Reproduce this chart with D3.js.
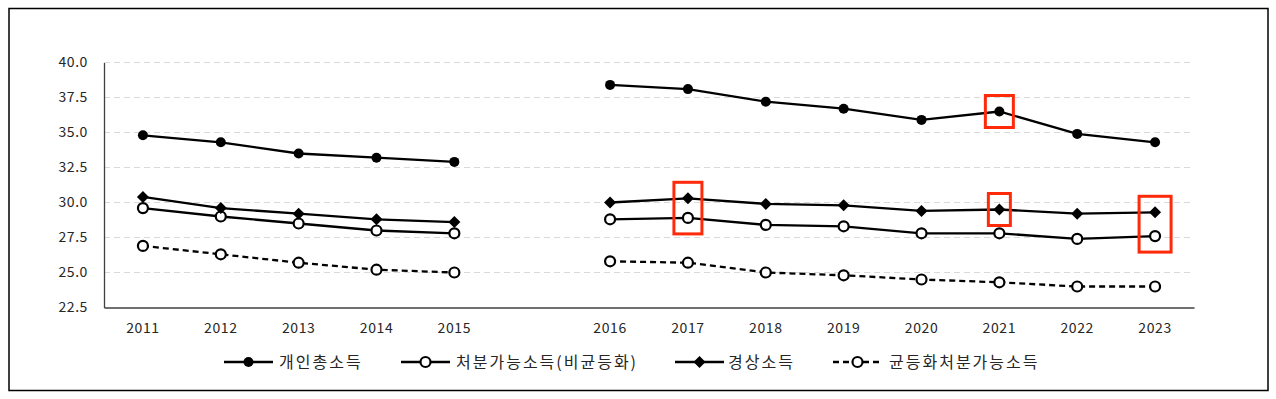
<!DOCTYPE html>
<html><head><meta charset="utf-8">
<script src="https://cdn.jsdelivr.net/npm/d3@7"></script>
<style>
html,body{margin:0;padding:0;background:#fff;}
text{font-family:"Noto Sans CJK KR","Noto Sans",sans-serif;fill:#262626;}
</style></head>
<body>
<svg id="c" width="1276" height="399"></svg>
<script>
const years = ["2011","2012","2013","2014","2015","","2016","2017","2018","2019","2020","2021","2022","2023"];
const yTicks = [22.5,25.0,27.5,30.0,32.5,35.0,37.5,40.0];
const seriesNames = ["개인총소득","처분가능소득(비균등화)","경상소득","균등화처분가능소득"];
const totalIncome   = [34.8,34.3,33.5,33.2,32.9,null,38.4,38.1,37.2,36.7,35.9,36.5,34.9,34.3];
const disposable    = [29.6,29.0,28.5,28.0,27.8,null,28.8,28.9,28.4,28.3,27.8,27.8,27.4,27.6];
const currentIncome = [30.4,29.6,29.2,28.8,28.6,null,30.0,30.3,29.9,29.8,29.4,29.5,29.2,29.3];
const equalized     = [26.9,26.3,25.7,25.2,25.0,null,25.8,25.7,25.0,24.8,24.5,24.3,24.0,24.0];
// highlighted points: [year, series indices]
const highlights = [["2017",[2,1]],["2021",[0]],["2021",[2]],["2023",[2,1]]];

const svg = d3.select("#c");
svg.append("rect").attr("x",9).attr("y",8.5).attr("width",1259).attr("height",382)
  .attr("fill","none").attr("stroke","#000").attr("stroke-width",1.5);

const x = d3.scaleBand().domain(years).range([104,1194]);
const y = d3.scaleLinear().domain([22.5,40]).range([307.5,62.5]);
const cx = d => x(d) + x.bandwidth()/2;

// grid
svg.append("g").selectAll("line").data(yTicks.filter(t=>t>22.5)).join("line")
  .attr("x1",104).attr("x2",1194).attr("y1",d=>y(d)).attr("y2",d=>y(d))
  .attr("stroke","#d9d9d9").attr("stroke-width",1.2).attr("stroke-dasharray","6,4");

// y axis
const ya = svg.append("g").attr("transform","translate(104,0)")
  .call(d3.axisLeft(y).tickValues(yTicks).tickFormat(d3.format(".1f")).tickSize(0).tickPadding(16));
ya.select(".domain").attr("stroke","#404040").attr("stroke-width",1.3);
ya.selectAll("text").attr("font-size",14).attr("letter-spacing","0.6px")
  .style("font-family","'Noto Sans CJK KR',sans-serif").attr("fill","#1a1a1a");

// x axis
const xa = svg.append("g").attr("transform","translate(0,307.5)")
  .call(d3.axisBottom(x).tickSize(0).tickPadding(16));
xa.select(".domain").attr("stroke","#404040").attr("stroke-width",1.3);
xa.selectAll("text").attr("font-size",14).attr("letter-spacing","0.6px")
  .style("font-family","'Noto Sans CJK KR',sans-serif").attr("fill","#1a1a1a");

const data = [totalIncome, disposable, currentIncome, equalized];
const markers = ["dot","open","diamond","open"];
const dashes = [null,null,null,"6,4"];
const line = d3.line().defined(d=>d.v!=null).x(d=>cx(d.k)).y(d=>y(d.v));

function drawMarker(g, type, px, py){
  if(type==="dot") g.append("circle").attr("cx",px).attr("cy",py).attr("r",5).attr("fill","#000");
  else if(type==="open") g.append("circle").attr("cx",px).attr("cy",py).attr("r",5).attr("fill","#fff").attr("stroke","#000").attr("stroke-width",2.2);
  else g.append("path").attr("d",`M${px},${py-6}L${px+6},${py}L${px},${py+6}L${px-6},${py}Z`).attr("fill","#000");
}

data.forEach((arr,i)=>{
  const pts = years.map((k,j)=>({k,v:arr[j]}));
  svg.append("path").datum(pts).attr("d",line).attr("fill","none").attr("stroke","#000")
    .attr("stroke-width",2.3).attr("stroke-dasharray",dashes[i]);
  const g = svg.append("g");
  pts.filter(p=>p.v!=null).forEach(p=>drawMarker(g,markers[i],cx(p.k),y(p.v)));
});

// highlight boxes
highlights.forEach(([yr,idx])=>{
  const j = years.indexOf(yr);
  const ys = idx.map(s=>y(data[s][j]));
  const top = d3.min(ys)-16, bot = d3.max(ys)+16;
  const w = idx.length>1 ? (yr==="2023"?32:28) : (idx[0]===0?28:22);
  svg.append("rect").attr("x",cx(yr)-w/2).attr("y",top).attr("width",w).attr("height",bot-top)
    .attr("fill","none").attr("stroke","#ff2a0a").attr("stroke-width",3);
});

// legend
const legX = [224,401,675,833];
const legTextX = [279,456,728,889];
const ly = 362;
seriesNames.forEach((n,i)=>{
  const g = svg.append("g");
  g.append("line").attr("x1",legX[i]).attr("x2",legX[i]+49).attr("y1",ly).attr("y2",ly)
    .attr("stroke","#000").attr("stroke-width",2.3).attr("stroke-dasharray",dashes[i]);
  drawMarker(g,markers[i],legX[i]+24.5,ly);
  g.append("text").attr("x",legTextX[i]).attr("y",ly).attr("dy","0.35em")
    .attr("font-size",16).attr("letter-spacing","2px").attr("fill","#1a1a1a").text(n);
});
</script>
</body></html>
